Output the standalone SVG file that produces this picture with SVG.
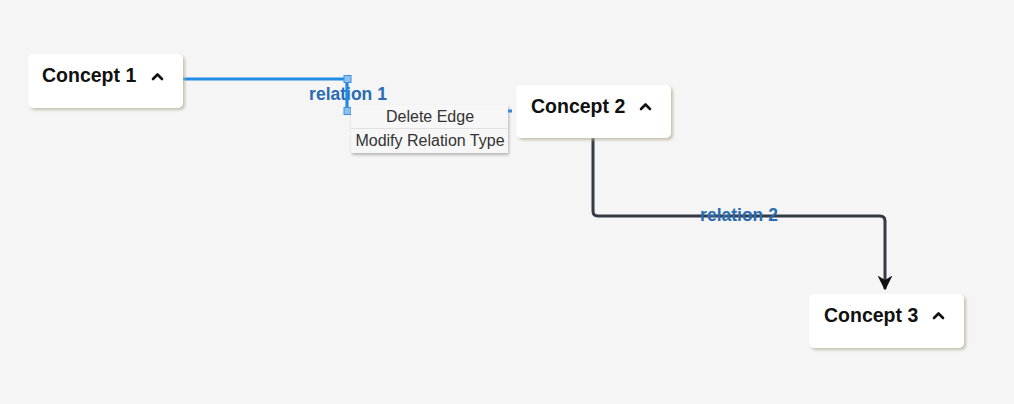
<svg xmlns="http://www.w3.org/2000/svg" width="1014" height="404" viewBox="0 0 1014 404">
<defs>
<filter id="sh" x="-20%" y="-30%" width="140%" height="160%">
<feDropShadow dx="2" dy="2" stdDeviation="1.5" flood-color="#b4ae98" flood-opacity="0.75"/>
</filter>
<filter id="msh" x="-20%" y="-30%" width="140%" height="160%">
<feDropShadow dx="1" dy="2" stdDeviation="1.5" flood-color="#888" flood-opacity="0.6"/>
</filter>
<marker id="arr" viewBox="0 0 10 10" refX="9" refY="5" markerWidth="5" markerHeight="5" orient="auto" markerUnits="strokeWidth">
<path d="M0,0 L10,5 L0,10 L3,5 z" fill="#111"/>
</marker>
</defs>
<style>
.node{fill:#fff;filter:url(#sh)}
.lbl{font-family:"Liberation Sans",Arial,sans-serif;font-weight:bold;font-size:19.5px;fill:#111}
.chev{fill:none;stroke:#111;stroke-width:2.6;stroke-linecap:round;stroke-linejoin:round}
.elbl{font-family:"Liberation Sans",Arial,sans-serif;font-weight:bold;font-size:17.5px;fill:#2a6cb3}
.menu{font-family:"Liberation Sans",Arial,sans-serif;font-size:16px;fill:#333}
.handle{fill:#8cc0ee;stroke:#3b8fe0;stroke-width:1}
</style>
<rect width="1014" height="404" fill="#f5f5f5"/>
<g id="connectors">
<text class="elbl" x="348" y="100" text-anchor="middle">relation 1</text>
<path d="M183,79 H347 V111 H512" fill="none" stroke="#2189e8" stroke-width="3.2"/>
<rect class="handle" x="344" y="75.5" width="7" height="7"/>
<rect class="handle" x="344" y="107.5" width="7" height="7"/>
<path d="M593,138 V211 Q593,216 598,216 H880 Q885,216 885,221 V289" fill="none" stroke="#343b45" stroke-width="3" marker-end="url(#arr)"/>
<text class="elbl" x="739" y="221" text-anchor="middle">relation 2</text>
</g>
<g id="menu">
<rect x="351" y="105" width="157" height="48" fill="#f7f7f7" filter="url(#msh)"/>
<line x1="351" y1="128.5" x2="508" y2="128.5" stroke="#e2e2e2" stroke-width="1"/>
<text class="menu" x="430" y="122" text-anchor="middle">Delete Edge</text>
<text class="menu" x="430" y="146" text-anchor="middle">Modify Relation Type</text>
</g>
<g id="concept1">
<rect class="node" x="28" y="54" width="155" height="54" rx="5"/>
<text class="lbl" x="42" y="82">Concept 1</text>
<polyline class="chev" points="153,79 157.5,74.5 162,79"/>
</g>
<g id="concept2">
<rect class="node" x="516" y="85" width="155" height="53" rx="5"/>
<text class="lbl" x="531" y="113">Concept 2</text>
<polyline class="chev" points="641,109 645.5,104.5 650,109"/>
</g>
<g id="concept3">
<rect class="node" x="809" y="294" width="155" height="54" rx="5"/>
<text class="lbl" x="824" y="322">Concept 3</text>
<polyline class="chev" points="934,318 938.5,313.5 943,318"/>
</g>
</svg>
